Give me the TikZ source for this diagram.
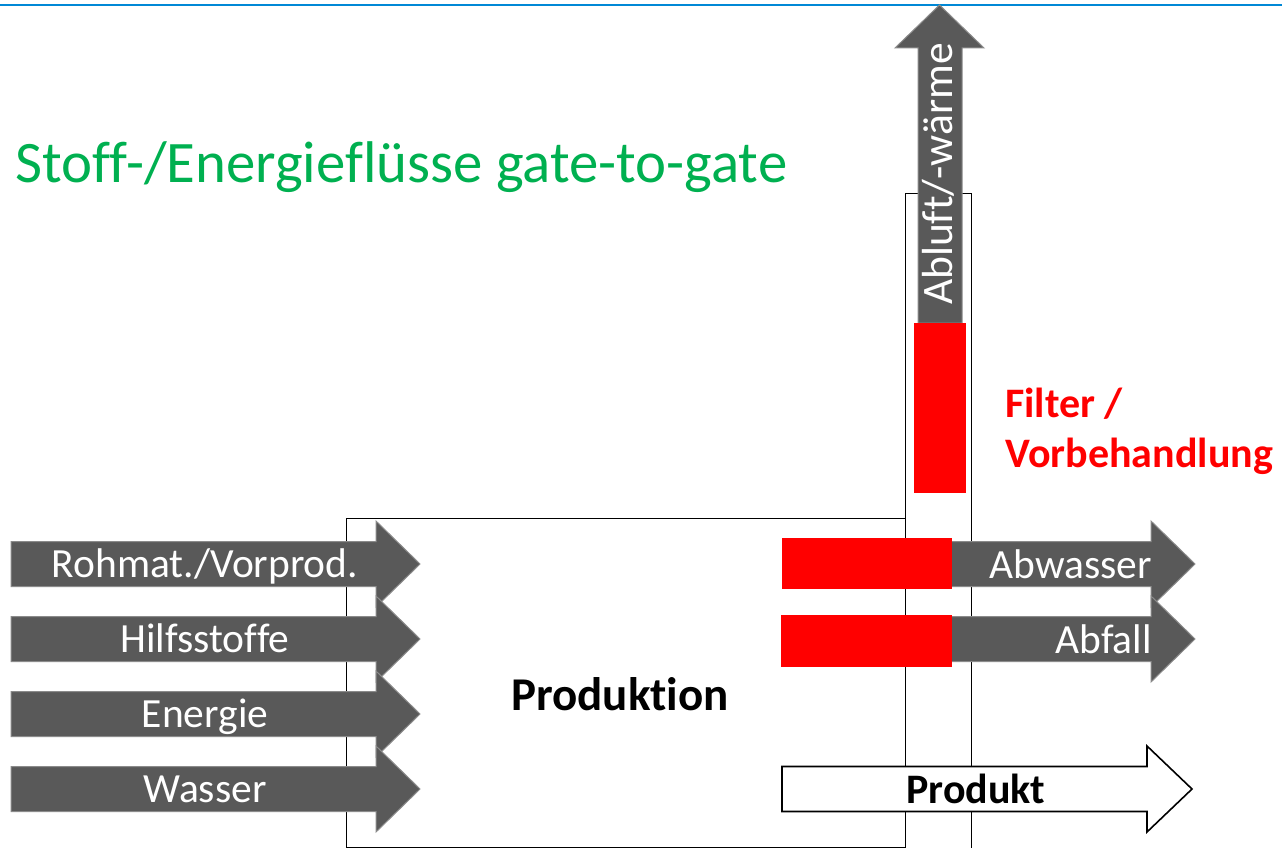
\documentclass[tikz,border=0pt]{standalone}
\usepackage{fontspec}
\setmainfont{Carlito}[Ligatures=NoCommon]
\usetikzlibrary{positioning}
\definecolor{flowgrey}{RGB}{89,89,89}
\definecolor{filterred}{RGB}{255,0,0}
\definecolor{titlegreen}{RGB}{0,176,80}
\definecolor{headblue}{RGB}{0,136,214}
\tikzset{
    flow/.style={fill=flowgrey, draw=flowgrey!70!white, line width=1pt},
    product/.style={fill=white, draw=black, line width=1.6pt},
    plant/.style={rectangle, draw=black, line width=1.2pt, inner sep=0pt},
    filterbox/.style={rectangle, fill=filterred, draw=none, inner sep=0pt},
    flowtext/.style={text=white, font=\fontsize{41.5}{48}\selectfont, inner sep=0pt},
    boldtext/.style={font=\bfseries\fontsize{42}{48}\selectfont, inner sep=0pt}
}
% [style]{tail x}{head base x}{tip x}{centre y}
\newcommand{\flowarrow}[5][flow]{%
    \draw[#1] (#2,#5-22.5) -- (#3,#5-22.5) -- (#3,#5-43) -- (#4,#5) -- (#3,#5+43) -- (#3,#5+22.5) -- (#2,#5+22.5) -- cycle;}

\begin{document}
\begin{tikzpicture}[x=1pt, y=-1pt]
        \useasboundingbox (0,0) rectangle (1282,848);

        \draw[headblue, line width=2.6pt] (0,5) -- (1282,5);

        \node[anchor=base west, text=titlegreen, font=\fontsize{58.8}{66}\selectfont, inner sep=0pt] (title) at (15,182) {Stoff-/Energieflüsse gate-to-gate};

        % plant and stack
        \node[plant, anchor=north west, minimum width=559pt, minimum height=329pt] (plant) at (346,518) {};
        \node[plant, anchor=north west, minimum width=66pt, minimum height=660pt] (stack) at (905,193) {};

        % exhaust air leaving through the stack
        \draw[flow] (918,323) -- (918,48) -- (895,48) -- (939.5,5) -- (984,48) -- (962,48) -- (962,323) -- cycle;
        \node[flowtext, font=\fontsize{43.5}{50}\selectfont, anchor=base, rotate=90] (abluft) at (952,174) {Abluft/-wärme};
        \node[filterbox, anchor=north west, minimum width=52pt, minimum height=170pt] (stackfilter) at (914,323) {};

        % inputs
        \foreach \y/\txt [count=\i] in {564/{Rohmat./Vorprod.}, 639/Hilfsstoffe, 714/Energie, 789/Wasser} {
            \flowarrow{11}{376}{420}{\y}
            \node[flowtext, anchor=base] (in\i) at (205,\y+13.5) {\txt};
        }

        % outputs
        \flowarrow{900}{1151}{1195}{564}
        \flowarrow{900}{1151}{1195}{639}
        \node[filterbox, anchor=north west, minimum width=170pt, minimum height=51pt] (waterfilter) at (782,538) {};
        \node[filterbox, anchor=north west, minimum width=171pt, minimum height=52pt] (wastefilter) at (781,615) {};
        \node[flowtext, anchor=base east] (abwasser) at (1152,578) {Abwasser};
        \node[flowtext, anchor=base east] (abfall) at (1152,653) {Abfall};

        \flowarrow[product]{782}{1147}{1192}{789}
        \node[boldtext, anchor=base] (produkt) at (976,803) {Produkt};

        \node[boldtext, font=\bfseries\fontsize{47}{54}\selectfont, anchor=base] (produktion) at (620,710) {Produktion};

        \node[boldtext, text=filterred, anchor=base west, align=left] (filter) at (1005,467) {Filter /\\[2pt]Vorbehandlung};

    \end{tikzpicture}
\end{document}
